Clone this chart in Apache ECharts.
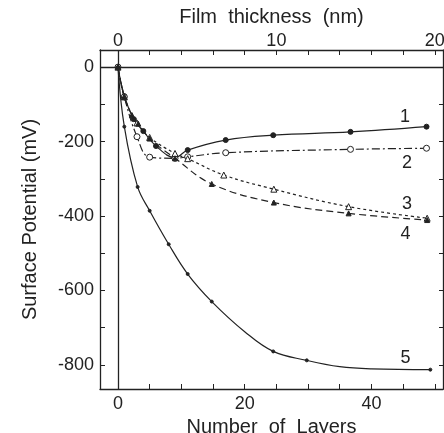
<!DOCTYPE html>
<html>
<head>
<meta charset="utf-8">
<script src="https://cdn.jsdelivr.net/npm/echarts@6/dist/echarts.min.js"></script>
<style>
  html, body { margin: 0; padding: 0; background: #fff; }
  #main { width: 444px; height: 433px; }
</style>
</head>
<body>
<div id="main"></div>
<script>
// 数据
let curve1 = [[0,0],[1,-78],[2.5,-140],[4,-172],[6,-212],[9,-243],[11,-223],[17,-196],[24.5,-183],[36.7,-174],[48.7,-160]];
let curve2 = [[0,0],[1,-80],[3,-187],[5,-242],[9,-245],[11,-241],[17,-230],[36.7,-221],[48.7,-218]];
let curve3 = [[0,0],[1,-80],[3,-150],[5,-189],[9,-232],[11,-246],[16.7,-290],[24.6,-328],[36.4,-375],[48.8,-406]];
let curve4 = [[0,0],[1,-80],[2.2,-129],[3.2,-152],[5,-192],[9,-245],[14.8,-314],[24.6,-364],[36.4,-393],[48.8,-411]];
let curve5 = [[0,0],[1,-160],[3.1,-322],[5,-386],[8,-476],[11,-556],[14.8,-630],[24.5,-764],[29.8,-788],[49.3,-813]];
// 曲线5上无标记的读数点 (只为了让线更圆滑)
let curve5Extra = [[20,-711],[35,-805],[40,-811]];

let layerTicks = [0,5,10,15,20,25,30,35,40,45,50];
let layerLabels = [0,20,40];
let nmTicks = [0,2,4,6,8,10,12,14,16,18,20];
let nmLabels = [0,10,20];
let mvTicks = [0,-100,-200,-300,-400,-500,-600,-700,-800];
let mvLabels = [0,-200,-400,-600,-800];

// 曲线编号的位置
let curveNames = ['1','2','3','4','5'];
let namePos = [[45.3,-134],[45.6,-258],[45.6,-368],[45.4,-448],[45.4,-781]];

let ink = '#222';
let font = 'Liberation Sans';

let myChart = echarts.init(document.getElementById('main'));

function lineSeries(data, dash, symbol, size, fill, idx){
  return {
    type: 'line',
    data: data,
    smooth: 0.4,
    symbol: symbol,
    symbolSize: size,
    lineStyle: { color: ink, width: 1.2, type: dash },
    itemStyle: { color: fill, borderColor: ink, borderWidth: 1 },
    markPoint: {
      symbol: 'rect',
      symbolSize: 1,
      silent: true,
      itemStyle: { color: 'rgba(0,0,0,0)', borderWidth: 0 },
      label: { show: true, position: 'inside', color: ink, fontSize: 18, fontFamily: font, formatter: curveNames[idx] },
      data: [{ coord: namePos[idx] }]
    },
    z: 3
  };
}

let c5 = curve5.map(function(p){ return { value: p }; })
  .concat(curve5Extra.map(function(p){ return { value: p, symbol: 'none' }; }))
  .sort(function(a, b){ return a.value[0] - b.value[0]; });

let series = [
  lineSeries(curve1, 'solid', 'circle', 5, ink, 0),
  lineSeries(curve2, [8,3,2,3], 'circle', 6, '#fff', 1),
  lineSeries(curve3, [3,3], 'triangle', 6, '#fff', 2),
  lineSeries(curve4, [7,4], 'triangle', 5, ink, 3),
  lineSeries(c5, 'solid', 'circle', 3, ink, 4)
];
// 零线
series[0].markLine = {
  silent: true,
  symbol: 'none',
  label: { show: false },
  lineStyle: { color: ink, width: 1.3, type: 'solid' },
  data: [{ yAxis: 0 }, { xAxis: 0 }]
};

let axisText = { color: ink, fontSize: 18, fontFamily: font };
let nameText = { color: ink, fontSize: 20, fontFamily: font };

myChart.setOption({
  backgroundColor: '#fff',
  animation: false,
  grid: { left: 100, right: 1, top: 50, bottom: 44, containLabel: false, outerBoundsMode: 'none' },
  xAxis: [
    {
      type: 'value', position: 'bottom', min: -2.84, max: 51.3,
      name: 'Number  of  Layers', nameLocation: 'middle', nameGap: 18,
      nameTextStyle: Object.assign({ verticalAlign: 'top' }, nameText),
      axisLine: { show: true, onZero: false, lineStyle: { color: ink, width: 1.3 } },
      axisTick: { show: true, inside: true, length: 5, customValues: layerTicks, lineStyle: { color: ink } },
      axisLabel: Object.assign({ customValues: layerLabels, margin: 6 }, axisText),
      splitLine: { show: false }
    },
    {
      type: 'value', position: 'top', min: -1.136, max: 20.52,
      name: 'Film  thickness  (nm)', nameLocation: 'middle', nameGap: 22,
      nameTextStyle: Object.assign({ verticalAlign: 'bottom' }, nameText),
      axisLine: { show: true, onZero: false, lineStyle: { color: ink, width: 1.3 } },
      axisTick: { show: true, inside: true, length: 5, customValues: nmTicks, lineStyle: { color: ink } },
      axisLabel: Object.assign({ customValues: nmLabels, margin: 0 }, axisText),
      splitLine: { show: false }
    }
  ],
  yAxis: [
    {
      type: 'value', position: 'left', min: -865, max: 46,
      name: 'Surface Potential (mV)', nameLocation: 'middle', nameGap: 60,
      nameTextStyle: nameText,
      axisLine: { show: true, onZero: false, lineStyle: { color: ink, width: 1.3 } },
      axisTick: { show: true, inside: true, length: 5, customValues: mvTicks, lineStyle: { color: ink } },
      axisLabel: Object.assign({ customValues: mvLabels, margin: 6 }, axisText),
      splitLine: { show: false }
    },
    {
      type: 'value', position: 'right', min: -865, max: 46,
      axisLine: { show: true, onZero: false, lineStyle: { color: ink, width: 1.3 } },
      axisTick: { show: true, inside: true, length: 4, customValues: mvTicks, lineStyle: { color: ink } },
      axisLabel: { show: false },
      splitLine: { show: false }
    }
  ],
  series: series
});
</script>
</body>
</html>
